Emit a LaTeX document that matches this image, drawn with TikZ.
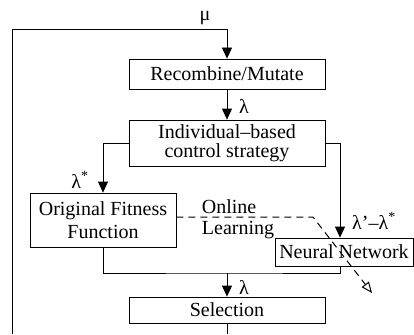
\documentclass[tikz,border=0pt]{standalone}
\usepackage{fontspec}
\setmainfont{Liberation Serif}
\usetikzlibrary{arrows.meta, positioning, calc}

\begin{document}
\begin{tikzpicture}[x=1pt, y=-1pt, line width=0.8pt,
    every node/.style={font=\fontsize{20}{22}\selectfont},
    box/.style={draw, inner sep=0pt, align=center},
    flow/.style={-{Triangle[width=10pt,length=11pt]}},
    learn/.style={line width=1pt, dash pattern=on 7pt off 5pt, -{Triangle[open,width=9pt,length=11pt]}}]
    \useasboundingbox (0,0) rectangle (414,334);
    % Boxes
    \node[box, minimum width=196pt, minimum height=30pt] (rec) at (227,74) {Recombine/Mutate};
    \node[box, minimum width=196pt, minimum height=46pt, font=\fontsize{20}{19}\selectfont] (ind) at (227,143) {Individual–based\\control strategy};
    \node[box, minimum width=146pt, minimum height=54pt, font=\fontsize{20}{23.3}\selectfont] (orig) at (103,220) {Original Fitness\\Function};
    \node[box, minimum width=138pt, minimum height=28pt] (nn) at (344,252) {Neural Network};
    \node[box, minimum width=196pt, minimum height=26pt] (sel) at (227,310) {Selection};
    % Labels
    \node (mu) at (205,18) {μ};
    \node (lam1) at (244,106) {λ};
    \node (lamstar) at (80,180) {λ\textsuperscript{*}};
    \node (lamrest) at (374,221) {λ'–λ\textsuperscript{*}};
    \node (lam2) at (244,287) {λ};
    \node[align=left, inner sep=0pt, font=\fontsize{20}{20.5}\selectfont] (online) at (238,219) {Online\\Learning};
    % Loop points
    \coordinate (loopl) at (12,334);
    \coordinate (loopt) at (12,29);
    \coordinate (loopr) at (227,334);
    \coordinate (merge) at (227,273);
    \coordinate (bend) at (313,217);
    \coordinate (learnend) at (372,293);
    % Connectors
    \draw[flow] (loopl) -- (loopt) -| (rec.north);
    \draw[flow] (rec) -- (ind);
    \draw[flow] (ind.west) -| (orig.north);
    \draw[flow] (ind.east) -| ([xshift=-4pt]nn.north);
    \draw (orig.south) |- (merge) -| ([xshift=-4pt]nn.south);
    \draw[flow] (merge) -- (sel);
    \draw (sel) -- (loopr);
    \draw[learn] (orig.east |- bend) -- (bend) -- (learnend);
\end{tikzpicture}
\end{document}
